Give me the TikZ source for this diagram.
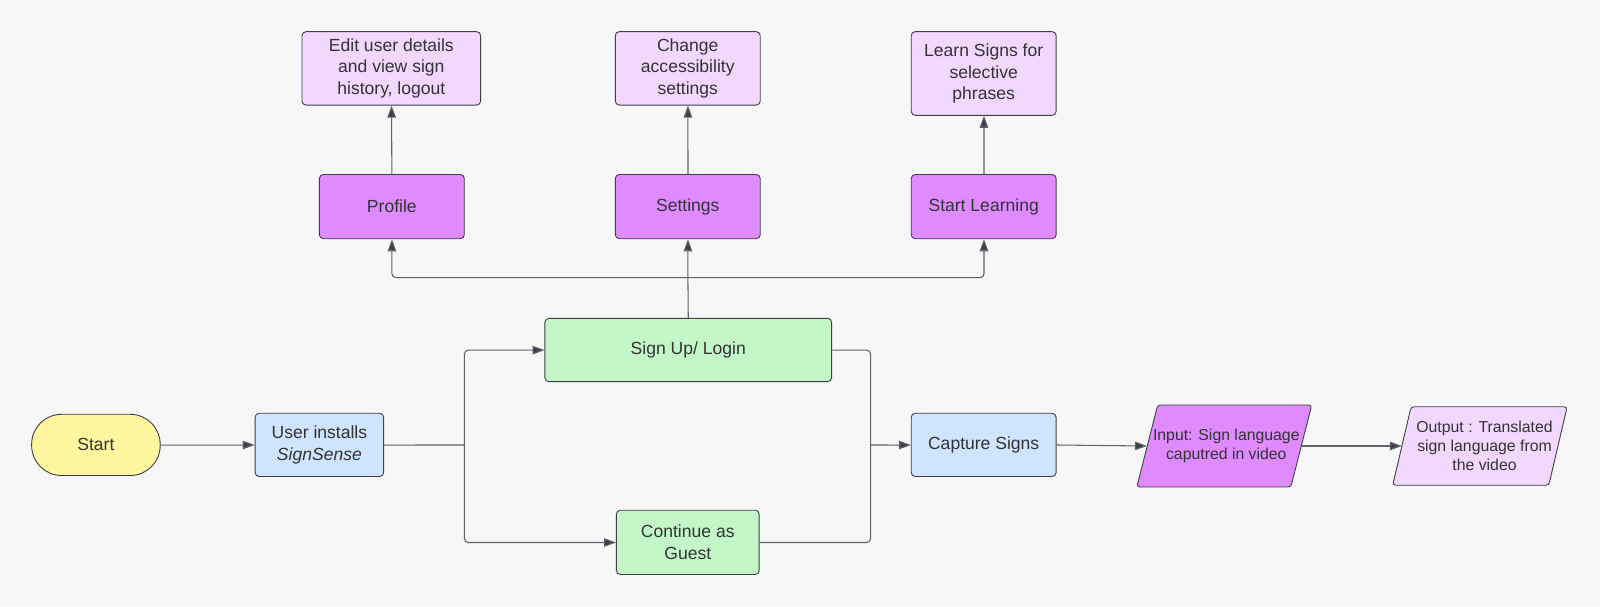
\documentclass[tikz,border=0pt]{standalone}
\usepackage{fontspec}
\setmainfont{Liberation Sans}
\usetikzlibrary{arrows.meta}
\definecolor{bg}{HTML}{F7F7F7}
\definecolor{yel}{HTML}{FFF6A0}
\definecolor{blu}{HTML}{CFE4FF}
\definecolor{grn}{HTML}{C3F7C8}
\definecolor{pur}{HTML}{DF8BFF}
\definecolor{lpur}{HTML}{F2D8FF}
\definecolor{bord}{HTML}{3F3F46}
\definecolor{lin}{HTML}{5F636B}
\definecolor{tip}{HTML}{3B404A}
\definecolor{txt}{HTML}{333333}
\begin{document}
\begin{tikzpicture}[x=1pt,y=-1pt,scale=1.0204,transform shape,
  box/.style={draw=bord, line width=0.9pt, rounded corners=4pt, align=center,
    text=txt, font=\fontsize{17.2}{21.2}\selectfont, inner sep=2pt},
  paratext/.style={align=center, text=txt, font=\fontsize{15.5}{18.8}\selectfont, inner sep=0pt},
  parashape/.style={draw=bord, line width=0.9pt, rounded corners=3pt},
  conn/.style={draw=lin, line width=1.05pt, rounded corners=4pt},
  arr/.style={conn, -{Triangle[length=12pt,width=8.5pt,fill=tip]}}
]
\fill[bg] (0,0) rectangle (1568,594);
\useasboundingbox (0,0) rectangle (1568,594);

% nodes
\node[box, fill=yel, rounded corners=30pt, minimum width=126pt, minimum height=60pt] (start) at (94,436) {Start};
\node[box, fill=blu, minimum width=126pt, minimum height=62pt] (user) at (313,436) {User installs\\\textit{SignSense}};
\node[box, fill=grn, minimum width=281pt, minimum height=62pt] (signup) at (674.5,343) {Sign Up/ Login};
\node[box, fill=grn, minimum width=140pt, minimum height=63pt] (guest) at (674,531.5) {Continue as\\Guest};
\node[box, fill=blu, minimum width=142pt, minimum height=62pt] (capture) at (964,436) {Capture Signs};

% parallelograms (outline drawn from the node's corners)
\node[paratext, minimum width=171pt, minimum height=80pt] (input) at (1199.5,437) {};
\filldraw[parashape, fill=pur] ([xshift=20.5pt]input.north west) -- (input.north east)
  -- ([xshift=-20.5pt]input.south east) -- (input.south west) -- cycle;
\node[paratext] at ([xshift=2pt]input.center) {Input: Sign language\\caputred in video};

\node[paratext, minimum width=170.5pt, minimum height=76.5pt] (output) at (1450,437) {};
\filldraw[parashape, fill=lpur] ([xshift=18pt]output.north west) -- (output.north east)
  -- ([xshift=-18pt]output.south east) -- (output.south west) -- cycle;
\node[paratext] at ([xshift=4.5pt]output.center) {Output : Translated\\sign language from\\the video};

\node[box, fill=pur, minimum width=142pt, minimum height=63pt] (profile) at (384,202.5) {Profile};
\node[box, fill=pur, minimum width=142pt, minimum height=63pt] (settings) at (674,202.5) {Settings};
\node[box, fill=pur, minimum width=142pt, minimum height=63pt] (learning) at (964,202.5) {Start Learning};

\node[box, fill=lpur, minimum width=175pt, minimum height=72pt] (edit) at (383.5,67) {Edit user details\\and view sign\\history, logout};
\node[box, fill=lpur, minimum width=142pt, minimum height=72pt] (change) at (674,67) {Change\\accessibility\\settings};
\node[box, fill=lpur, minimum width=142pt, minimum height=82pt] (learn) at (964,72) {Learn Signs for\\selective\\phrases};

% junctions
\coordinate (j1) at (455,436);
\coordinate (j2) at (853,436);
\coordinate (j3) at (674,272);

% connectors
\draw[arr] (start) -- (user);
\draw[conn] (user) -- (j1);
\draw[arr] (j1) |- (signup);
\draw[arr] (j1) |- (guest);
\draw[conn] (signup) -| (j2);
\draw[conn] (guest) -| (j2);
\draw[arr] (j2) -- (capture);
\draw[arr] (capture.east) -- ([xshift=10pt]input.west);
\draw[arr] ([xshift=-10pt]input.east) -- ([xshift=9pt]output.west);

\draw[conn] (signup) -- (j3);
\draw[arr] (j3) -| (profile);
\draw[arr] (j3) -| (learning);
\draw[arr] (j3) -- (settings);

\draw[arr] (profile) -- (edit);
\draw[arr] (settings) -- (change);
\draw[arr] (learning) -- (learn);
\end{tikzpicture}
\end{document}
